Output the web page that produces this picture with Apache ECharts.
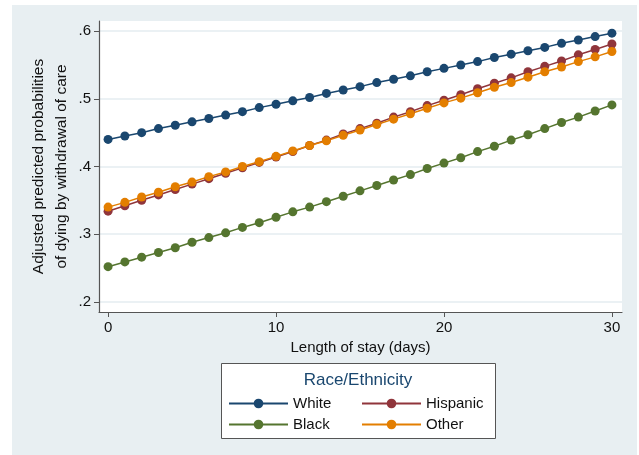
<!DOCTYPE html>
<html>
<head>
<meta charset="utf-8">
<script src="https://cdn.jsdelivr.net/npm/echarts@6/dist/echarts.min.js"></script>
<style>
  html, body { margin: 0; padding: 0; background: #ffffff; }
  #chart { position: absolute; left: 12px; top: 5px; width: 625px; height: 450px; background: #e8eff2; }
</style>
</head>
<body>
<div id="chart"></div>
<script>
// days 0..30
var days = []
for (var d = 0; d <= 30; d++) days.push(d)

var white = [0.440, 0.445, 0.450, 0.456, 0.461, 0.466, 0.471, 0.476, 0.481, 0.487, 0.492,
  0.497, 0.502, 0.508, 0.513, 0.518, 0.524, 0.529, 0.534, 0.540, 0.545,
  0.550, 0.555, 0.561, 0.566, 0.571, 0.576, 0.582, 0.587, 0.592, 0.597]
var hispanic = [0.334, 0.342, 0.350, 0.358, 0.366, 0.374, 0.382, 0.390, 0.398, 0.406, 0.414,
  0.422, 0.431, 0.439, 0.448, 0.456, 0.464, 0.473, 0.481, 0.490, 0.498,
  0.506, 0.515, 0.523, 0.531, 0.540, 0.548, 0.556, 0.565, 0.573, 0.581]
var black = [0.252, 0.259, 0.266, 0.273, 0.280, 0.288, 0.295, 0.302, 0.310, 0.317, 0.325,
  0.333, 0.340, 0.348, 0.356, 0.364, 0.372, 0.380, 0.388, 0.397, 0.405,
  0.413, 0.422, 0.430, 0.439, 0.447, 0.456, 0.465, 0.473, 0.482, 0.491]
var other = [0.340, 0.347, 0.355, 0.362, 0.370, 0.377, 0.385, 0.392, 0.400, 0.407, 0.415,
  0.423, 0.431, 0.438, 0.446, 0.454, 0.462, 0.470, 0.478, 0.486, 0.494,
  0.501, 0.509, 0.517, 0.524, 0.532, 0.540, 0.547, 0.555, 0.562, 0.570]

var xTicks = [0, 10, 20, 30]
var yTicks = [0.2, 0.3, 0.4, 0.5, 0.6]

var names = ['White', 'Hispanic', 'Black', 'Other']
var colors = ['#1a476f', '#90353b', '#55752f', '#e37e00']
var values = [white, hispanic, black, other]

function pairs(arr) {
  return days.map(function (d, i) { return [d, arr[i]] })
}

var font = 'Liberation Sans, Arial, sans-serif'
var myChart = echarts.init(document.getElementById('chart'))

var series = names.map(function (n, i) {
  return {
    name: n,
    type: 'line',
    data: pairs(values[i]),
    symbol: 'circle',
    symbolSize: 9,
    showSymbol: true,
    lineStyle: { width: 1.5, color: colors[i] },
    itemStyle: { color: colors[i] },
    emphasis: { disabled: true },
    animation: false
  }
})

// two legend columns, like the stata key
function legendCol(data, left) {
  return {
    data: data,
    left: left,
    top: 386,
    orient: 'vertical',
    itemWidth: 59,
    itemHeight: 12,
    itemGap: 6,
    selectedMode: false,
    textStyle: { fontFamily: font, fontSize: 15, color: '#111' }
  }
}

var option = {
  animation: false,
  color: colors,
  grid: {
    left: 87, right: 15, top: 16, bottom: 143,
    show: true, backgroundColor: '#ffffff', borderWidth: 0
  },
  xAxis: {
    type: 'value',
    min: -0.54,
    max: 30.6,
    name: 'Length of stay (days)',
    nameLocation: 'middle',
    nameGap: 27,
    nameTextStyle: { fontFamily: font, fontSize: 15, color: '#111' },
    axisLine: { onZero: false, lineStyle: { color: '#555', width: 1.2 } },
    axisTick: { show: true, length: 5, customValues: xTicks, lineStyle: { color: '#555' } },
    axisLabel: { customValues: xTicks, fontFamily: font, fontSize: 15, color: '#111', margin: 8 },
    splitLine: { show: false }
  },
  yAxis: {
    type: 'value',
    min: 0.185,
    max: 0.615,
    name: 'Adjusted predicted probabilities\nof dying by withdrawal of care',
    nameLocation: 'middle',
    nameRotate: 90,
    nameGap: 26,
    nameMoveOverlap: false,
    nameTextStyle: { fontFamily: font, fontSize: 15.5, lineHeight: 23, color: '#111' },
    axisLine: { show: true, onZero: false, lineStyle: { color: '#555', width: 1.2 } },
    axisTick: { show: true, length: 5, customValues: yTicks, lineStyle: { color: '#555' } },
    axisLabel: {
      customValues: yTicks,
      fontFamily: font, fontSize: 15, color: '#111', margin: 8,
      formatter: function (v) { return String(Math.round(v * 10) / 10).replace(/^0/, '') }
    },
    splitLine: { show: true, lineStyle: { color: '#e4edf0', width: 1.5 } }
  },
  legend: [
    legendCol(['White', 'Black'], 211),
    legendCol(['Hispanic', 'Other'], 344)
  ],
  graphic: [
    {
      type: 'rect',
      shape: { x: 209.5, y: 358.5, width: 274, height: 75 },
      style: { fill: '#ffffff', stroke: '#555', lineWidth: 1 },
      z: -1
    },
    {
      type: 'text',
      x: 346, y: 375,
      style: {
        text: 'Race/Ethnicity', fontFamily: font, fontSize: 17,
        fill: '#1a476f', align: 'center', verticalAlign: 'middle'
      }
    }
  ],
  series: series
}

myChart.setOption(option)
</script>
</body>
</html>
